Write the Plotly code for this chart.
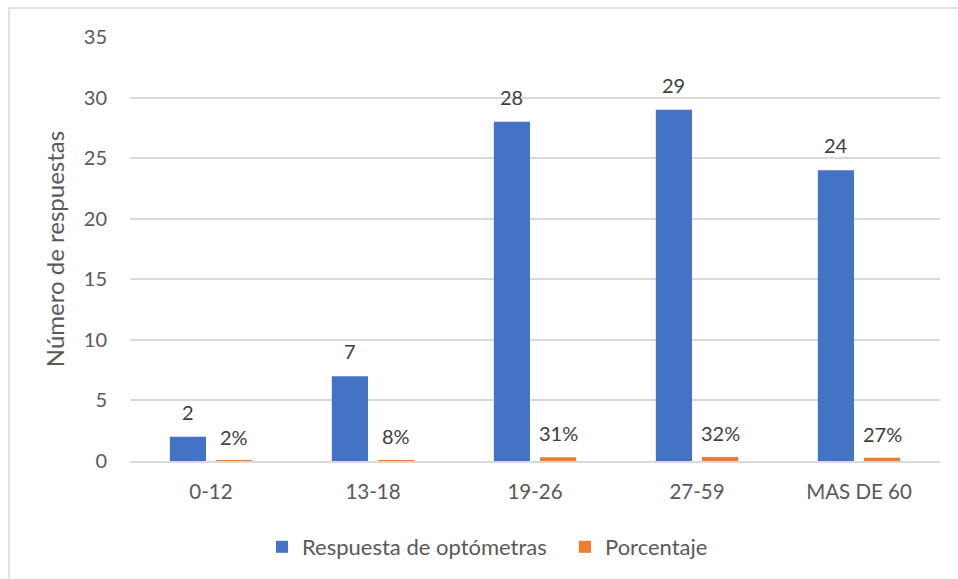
import plotly.graph_objects as go

CATEGORIES = ["0-12", "13-18", "19-26", "27-59", "MAS DE 60"]
RESPUESTAS = [2, 7, 28, 29, 24]
PORCENTAJE = [0.02, 0.08, 0.31, 0.32, 0.27]
Y_TICKS = [0, 5, 10, 15, 20, 25, 30, 35]

BLUE = "#4472C4"
ORANGE = "#ED7D31"
AXIS_TEXT = "#595959"
LABEL_TEXT = "#404040"
FONT = "Lato, 'Open Sans', sans-serif"

# plot area in pixels (from the reference)
W, H = 958, 579
L, R, T, B = 130, 940, 37, 461
PW, PH = R - L, B - T

fig = go.Figure()
fig.add_trace(go.Bar(x=CATEGORIES, y=RESPUESTAS, name="Respuesta de optómetras",
                     marker={"color": BLUE, "line": {"width": 0}}, legend="legend"))
fig.add_trace(go.Bar(x=CATEGORIES, y=PORCENTAJE, name="Porcentaje",
                     marker={"color": ORANGE, "line": {"width": 0}}, legend="legend2"))

bargap, groupgap = 0.43, 0.217
offset = (1 - bargap) / 4

for i, (n, p) in enumerate(zip(RESPUESTAS, PORCENTAJE)):
    fig.add_annotation(x=i - offset, y=n, text=str(n), showarrow=False,
                       yshift=25, font={"size": 20, "color": LABEL_TEXT})
    fig.add_annotation(x=i + offset, y=p, text=f"{p:.0%}", showarrow=False,
                       yshift=24, font={"size": 20, "color": LABEL_TEXT})

# chart frame (light grey border as in the office chart)
fig.add_shape(type="rect", xref="paper", yref="paper",
              x0=(9 - L) / PW, x1=(W + 5 - L) / PW,
              y0=(B - (H + 5)) / PH, y1=(B - 8) / PH,
              line={"color": "#d9d9d9", "width": 1.5}, layer="below")

legend_style = {"orientation": "h", "xanchor": "left", "yanchor": "middle",
                "y": (B - 547) / PH, "font": {"size": 22, "color": AXIS_TEXT},
                "bgcolor": "rgba(0,0,0,0)"}

fig.update_layout(
    width=W, height=H,
    margin={"l": L, "r": W - R, "t": T, "b": H - B, "autoexpand": False},
    paper_bgcolor="white", plot_bgcolor="white",
    font={"family": FONT, "size": 20, "color": AXIS_TEXT},
    barmode="group", bargap=bargap, bargroupgap=groupgap,
    showlegend=True,
    legend={**legend_style, "x": (262 - L) / PW},
    legend2={**legend_style, "x": (565 - L) / PW},
)
fig.update_xaxes(showgrid=False, showline=True, linecolor="#d9d9d9", linewidth=1.5,
                 ticks="", ticklabelstandoff=12, automargin=False,
                 tickfont={"size": 20.5})
fig.update_yaxes(range=[0, 35], tickvals=Y_TICKS, showgrid=True, gridcolor="#d9d9d9",
                 gridwidth=1.5, zeroline=False, showline=False, ticks="",
                 ticklabelstandoff=22, automargin=False,
                 title={"text": "Número de respuestas", "standoff": 12,
                        "font": {"size": 24, "color": AXIS_TEXT}})

fig.write_html("out.html", config={"displayModeBar": False},
               post_script="document.body.style.margin='0';")
